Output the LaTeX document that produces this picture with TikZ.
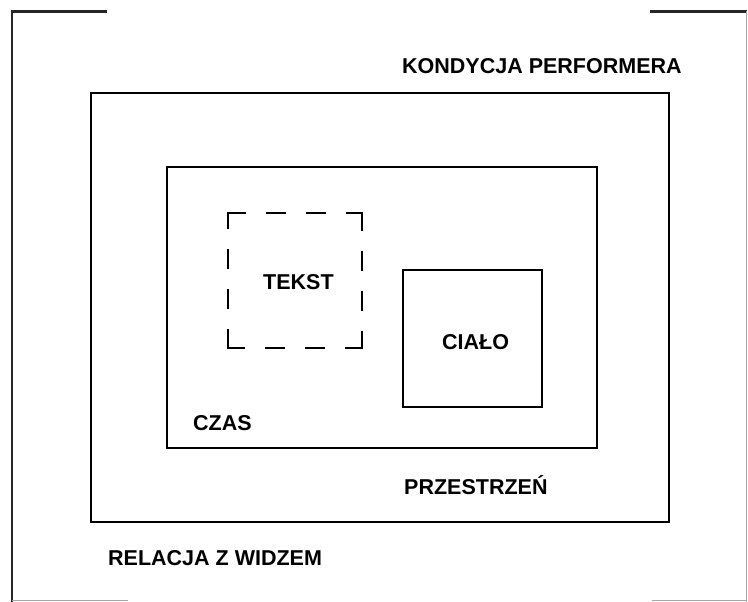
\documentclass[tikz,border=0pt]{standalone}
\usepackage{fontspec}
\setmainfont{Liberation Sans}
\begin{document}
\begin{tikzpicture}[x=1pt,y=-1pt,
    ramka/.style={draw,rectangle,line width=2.9pt,inner sep=0pt},
    kreska/.style={ramka,line cap=rect,
      dash pattern=on 18pt off 22pt on 18pt off 22pt on 32pt off 22pt,
      dash phase=96pt},
    brzeg/.style={line width=2.2pt,black!85},
    jasny/.style={line width=1pt,black!35},
    napis/.style={inner sep=0pt,anchor=base west,font=\bfseries\fontsize{21.5}{24}\selectfont}]
  \useasboundingbox (0,0) rectangle (748,602);

  % ---- rama zewnetrzna -----------------------------------------------------
  \coordinate (lg) at (107,11.5);
  \coordinate (ln) at (12,11.5);
  \coordinate (ld) at (12,602);
  \coordinate (pg) at (650,11.5);
  \coordinate (pn) at (746.5,11.5);
  \coordinate (pd) at (746.5,602);
  \draw[brzeg] (lg) -- (ln) -- (ld);
  \draw[brzeg] (pg) -- (pn);
  \draw[jasny] (pn) -- (pd);
  \draw[jasny] (12,600.5) -- (128,600.5) (652,600.5) -- (746.5,600.5);

  % ---- ramki ---------------------------------------------------------------
  \node[ramka,minimum width=578pt,minimum height=429pt] (kondycja)   at (380,307.5) {};
  \node[ramka,minimum width=430pt,minimum height=281pt] (przestrzen) at (382,307.5) {};
  \node[kreska,minimum width=134pt,minimum height=135pt] (tekst)     at (295,280.5) {};
  \node[ramka,minimum width=139pt,minimum height=137pt] (cialo)      at (472.5,338.5) {};

  % ---- napisy --------------------------------------------------------------
  \node[napis] (nkondycja)   at (402,74)  {KONDYCJA PERFORMERA};
  \node[napis] (ntekst)      at (263,289) {TEKST};
  \node[napis] (ncialo)      at (442,349) {CIAŁO};
  \node[napis] (nczas)       at (193,430) {CZAS};
  \node[napis] (nprzestrzen) at (404,494) {PRZESTRZEŃ};
  \node[napis] (nrelacja)    at (108,565) {RELACJA Z WIDZEM};
\end{tikzpicture}
\end{document}
